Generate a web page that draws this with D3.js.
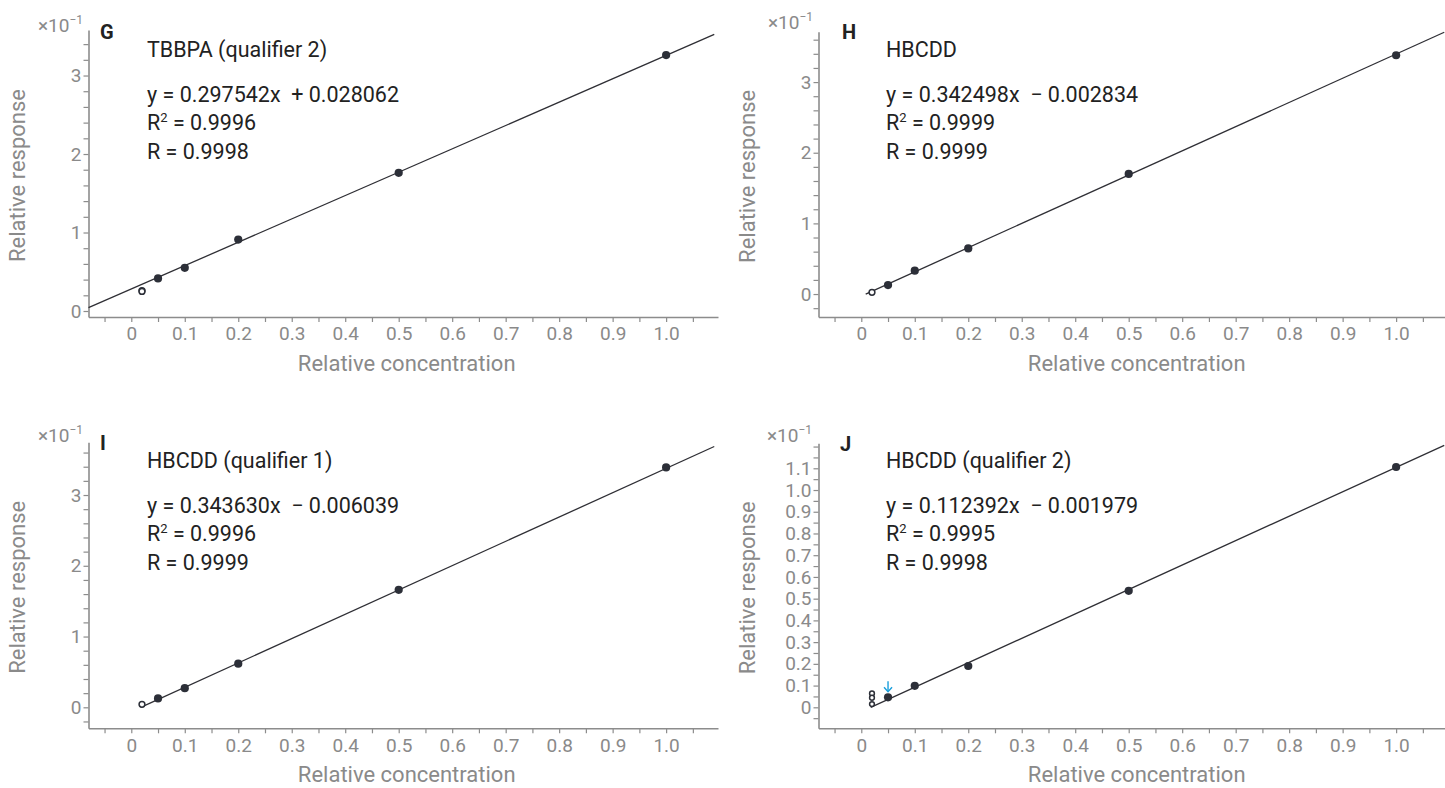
<!DOCTYPE html>
<html><head><meta charset="utf-8">
<script src="https://cdn.jsdelivr.net/npm/d3@7"></script>
<style>
html,body{margin:0;padding:0;background:#fff;}
svg{display:block;font-family:Roboto,"Noto Sans",sans-serif;}
</style></head><body>
<svg id="chart" width="1445" height="788"></svg>
<script>
// ---------------- data ----------------
const panelIds = ["G", "H", "I", "J"];
const compoundNames = ["TBBPA (qualifier 2)", "HBCDD", "HBCDD (qualifier 1)", "HBCDD (qualifier 2)"];
const equations = ["y = 0.297542x  + 0.028062", "y = 0.342498x  \u2212 0.002834", "y = 0.343630x  \u2212 0.006039", "y = 0.112392x  \u2212 0.001979"];
const rSquaredValues = ["0.9996", "0.9999", "0.9996", "0.9995"];
const rValues = ["0.9998", "0.9999", "0.9999", "0.9998"];
const slopes = [0.297542, 0.342498, 0.343630, 0.112392];
const intercepts = [0.028062, -0.002834, -0.006039, -0.001979];
const responseScale = 10; // axis shows response ×10⁻¹

const xTickLabels = ["0", "0.1", "0.2", "0.3", "0.4", "0.5", "0.6", "0.7", "0.8", "0.9", "1.0"];
const yTickLabelsInt = ["0", "1", "2", "3"];
const yTickLabelsJ = ["0", "0.1", "0.2", "0.3", "0.4", "0.5", "0.6", "0.7", "0.8", "0.9", "1.0", "1.1"];

// calibration levels (relative concentration)
const excludedConc = 0.02;
const includedConc = [0.05, 0.1, 0.2, 0.5, 1.0];

// relative responses (×10⁻¹)
const includedG = [0.415, 0.55, 0.91, 1.76, 3.26];
const excludedG = [0.26, 0.25];
const includedH = [0.127, 0.33, 0.646, 1.70, 3.38];
const excludedH = [0.024];
const includedI = [0.126, 0.27, 0.617, 1.66, 3.39];
const excludedI = [0.042];
const includedJ = [0.046, 0.099, 0.19, 0.536, 1.106];
const excludedJ = [0.064, 0.044, 0.015];
const arrowConcJ = 0.05;

const includedAll = [includedG, includedH, includedI, includedJ];
const excludedAll = [excludedG, excludedH, excludedI, excludedJ];

// ---------------- layout ----------------
const xDomain = [-0.08, 1.097];
const lineEndX = 1.09;
const layout = [
  {left: 88.5,  top: 30,    bottom: 317,   yDomain: [-0.0764, 3.58],  yStep: 0.2,  ticks: yTickLabelsInt, textX: 147, letterX: 100, row: 0, expRight: 83,  expBase: 31.5, openR: 2.9},
  {left: 818.5, top: 31.7,  bottom: 317,   yDomain: [-0.325, 3.713],  yStep: 0.2,  ticks: yTickLabelsInt, textX: 886, letterX: 842, row: 0, expRight: 813, expBase: 29,   openR: 2.9},
  {left: 88.5,  top: 442.3, bottom: 728.3, yDomain: [-0.2967, 3.745], yStep: 0.2,  ticks: yTickLabelsInt, textX: 147, letterX: 100, row: 1, expRight: 83,  expBase: 441.5, openR: 2.9},
  {left: 818.5, top: 443.3, bottom: 728.3, yDomain: [-0.0966, 1.215], yStep: 0.05, ticks: yTickLabelsJ,   textX: 886, letterX: 840, row: 1, expRight: 812, expBase: 441.5, openR: 2.4}
];

const axisColor = "#8c8c8c";
const textColor = "#8a8a8a";
const darkText = "#222";
const pointColor = "#2c2f38";
const tickFont = "19px";
const titleFont = "22px";
const blockFont = "21.5px";

const svg = d3.select("#chart");

panelIds.forEach((id, i) => {
  const L = layout[i];
  const rowOff = L.row * 411;
  const g = svg.append("g");
  const x = d3.scaleLinear().domain(xDomain).range([L.left, L.left + 629.5]);
  const y = d3.scaleLinear().domain(L.yDomain).range([L.bottom, L.top]);

  // x axis
  const xTickVals = d3.range(-1, 22).map(k => k * 0.05).filter(v => v >= xDomain[0] && v <= xDomain[1]);
  const isMajorX = v => v >= -1e-9 && v <= 1.0001 && Math.abs(v * 10 - Math.round(v * 10)) < 1e-6;
  const xAxis = d3.axisBottom(x).tickValues(xTickVals).tickSize(5).tickSizeOuter(0).tickPadding(5)
    .tickFormat(v => isMajorX(v) ? xTickLabels[Math.round(v * 10)] : "");
  const gx = g.append("g").attr("transform", `translate(0,${L.bottom})`).call(xAxis);

  // y axis
  const yTickVals = d3.range(-40, 100).map(k => k * L.yStep).filter(v => v >= L.yDomain[0] && v <= L.yDomain[1]);
  const majorStep = L.ticks === yTickLabelsJ ? 0.1 : 1;
  const yAxis = d3.axisLeft(y).tickValues(yTickVals).tickSize(5).tickSizeOuter(0).tickPadding(2)
    .tickFormat(v => {
      const k = v / majorStep;
      if (Math.abs(k - Math.round(k)) < 1e-6 && Math.round(k) >= 0 && Math.round(k) < L.ticks.length) return L.ticks[Math.round(k)];
      return "";
    });
  const gy = g.append("g").attr("transform", `translate(${L.left},0)`).call(yAxis);

  [gx, gy].forEach(ax => {
    ax.select(".domain").attr("stroke", axisColor).attr("stroke-width", 1.6);
    ax.selectAll(".tick line").attr("stroke", axisColor).attr("stroke-width", 1.2);
    ax.selectAll(".tick text").attr("fill", textColor).style("font-size", tickFont).style("font-family", "Roboto");
  });

  // axis titles
  g.append("text").attr("x", x(0.5) + 8).attr("y", 371 + rowOff).attr("text-anchor", "middle")
    .attr("fill", textColor).style("font-size", titleFont).text("Relative concentration");
  g.append("text").attr("transform", `translate(${L.left - 63.5},${(L.top + L.bottom) / 2 + 2}) rotate(-90)`)
    .attr("text-anchor", "middle").attr("fill", textColor).style("font-size", titleFont).text("Relative response");

  // exponent label
  const ex = g.append("text").attr("x", L.expRight).attr("y", L.expBase).attr("text-anchor", "end")
    .attr("fill", textColor).style("font-size", "19px");
  ex.append("tspan").text("\u00d710");
  ex.append("tspan").attr("dy", -8).style("font-size", "12px").text("\u22121");

  // panel letter
  g.append("text").attr("x", L.letterX).attr("y", 38.5 + rowOff + (i === 3 ? 1 : 0)).attr("fill", darkText)
    .style("font-size", "20px").style("font-weight", "bold").text(id);

  // text block
  const tb = (txt, yy) => g.append("text").attr("x", L.textX).attr("y", yy + rowOff).attr("fill", darkText)
    .style("font-size", blockFont).style("white-space", "pre").text(txt);
  tb(compoundNames[i], 57);
  tb(equations[i], 102);
  const r2 = g.append("text").attr("x", L.textX).attr("y", 130 + rowOff).attr("fill", darkText).style("font-size", blockFont);
  r2.append("tspan").text("R");
  r2.append("tspan").attr("dy", -8).style("font-size", "13px").text("2");
  r2.append("tspan").attr("dy", 8).text(" = " + rSquaredValues[i]);
  tb("R = " + rValues[i], 159);

  // regression line (drawn where response ≥ 0)
  const m = slopes[i] * responseScale, b = intercepts[i] * responseScale;
  const x0 = Math.max(xDomain[0], -b / m);
  const lineData = [[x0, m * x0 + b], [lineEndX, m * lineEndX + b]];
  g.append("path").datum(lineData)
    .attr("d", d3.line().x(d => x(d[0])).y(d => y(d[1])))
    .attr("fill", "none").attr("stroke", "#2f2f35").attr("stroke-width", 1.3);

  // included points
  g.selectAll(".pt").data(includedAll[i].map((v, k) => [includedConc[k], v])).enter().append("circle")
    .attr("cx", d => x(d[0])).attr("cy", d => y(d[1])).attr("r", 4.1).attr("fill", pointColor);

  // excluded points (open)
  g.selectAll(".op").data(excludedAll[i]).enter().append("circle")
    .attr("cx", x(excludedConc)).attr("cy", d => y(d)).attr("r", L.openR)
    .attr("fill", "#fff").attr("stroke", pointColor).attr("stroke-width", 1.5);

  // arrow in J
  if (id === "J") {
    const k = includedConc.indexOf(arrowConcJ);
    const ax = x(arrowConcJ), ay = y(includedJ[k]);
    const arr = g.append("g").attr("stroke", "#1a9fdc").attr("stroke-width", 1.4).attr("fill", "none");
    arr.append("line").attr("x1", ax).attr("x2", ax).attr("y1", ay - 16).attr("y2", ay - 5.5);
    arr.append("path").attr("d", `M${ax - 4},${ay - 10} L${ax},${ay - 5.5} L${ax + 4},${ay - 10}`);
  }
});
</script>
</body></html>
